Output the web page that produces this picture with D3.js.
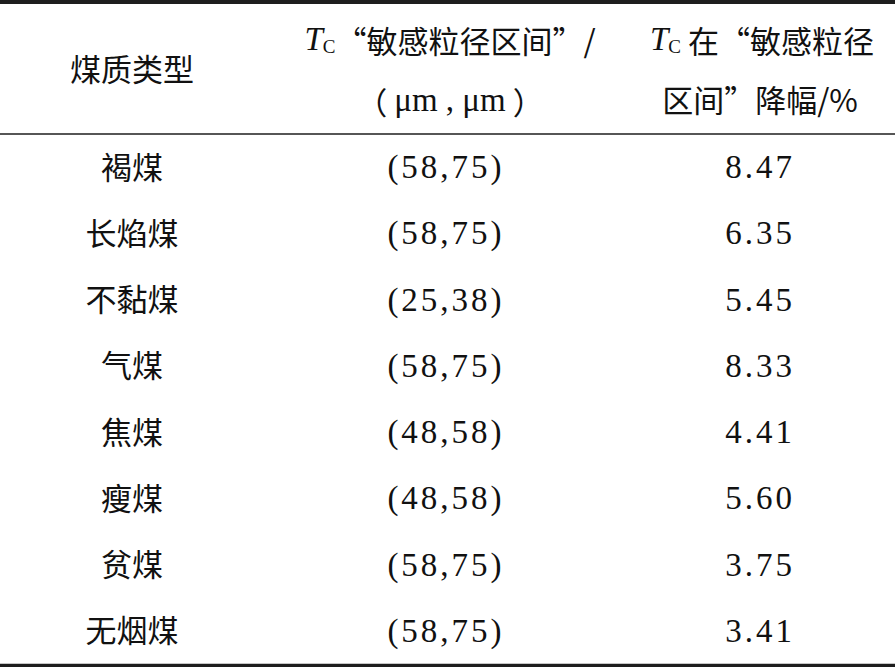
<!DOCTYPE html>
<html>
<head>
<meta charset="utf-8">
<script src="https://cdn.jsdelivr.net/npm/d3@7"></script>
<style>
  body { margin: 0; background: #fff; }
  .cn { font-family: "Noto Sans CJK SC", sans-serif; }
  .num { font-family: "Liberation Serif", "Times New Roman", serif; letter-spacing: 3px; }
</style>
</head>
<body>
<div id="chart-area"></div>
<script>
// table data
var coalTypes = ["褐煤", "长焰煤", "不黏煤", "气煤", "焦煤", "瘦煤", "贫煤", "无烟煤"];
var rangeLow = [58, 58, 25, 58, 48, 48, 58, 58];
var rangeHigh = [75, 75, 38, 75, 58, 58, 75, 75];
var drops = ["8.47", "6.35", "5.45", "8.33", "4.41", "5.60", "3.75", "3.41"];
var columns = ["type", "range", "drop"];

var width = 895, height = 667;
var headTop = 4, headBottom = 134, tableBottom = 664;

var svg = d3.select("#chart-area").append("svg")
    .attr("width", width)
    .attr("height", height);

// column centres
var x = d3.scaleOrdinal()
    .domain(columns)
    .range([132, 446, 760]);

// row bands
var y = d3.scaleBand()
    .domain(d3.range(coalTypes.length))
    .range([headBottom, tableBottom]);

// rules
svg.append("line").attr("x1", 0).attr("x2", width).attr("y1", 2).attr("y2", 2)
    .attr("stroke", "#1e1e1e").attr("stroke-width", 4);
svg.append("line").attr("x1", 0).attr("x2", width).attr("y1", headBottom).attr("y2", headBottom)
    .attr("stroke", "#1e1e1e").attr("stroke-width", 1.5);
svg.append("line").attr("x1", 0).attr("x2", width).attr("y1", 665.5).attr("y2", 665.5)
    .attr("stroke", "#1e1e1e").attr("stroke-width", 3.5);

var fs = 31;

// header
var headMid = (headTop + headBottom) / 2;
svg.append("text").attr("class", "cn")
    .attr("x", x("type")).attr("y", headMid - 2)
    .attr("text-anchor", "middle").attr("dominant-baseline", "central")
    .attr("font-size", fs).attr("fill", "#111")
    .text("煤质类型");

function tcLabel(t, cx, cy, rest) {
    var tx = t.append("text")
        .attr("x", cx).attr("y", cy)
        .attr("text-anchor", "middle").attr("dominant-baseline", "central")
        .attr("font-size", fs).attr("fill", "#111");
    tx.append("tspan").attr("font-family", "Liberation Serif, serif")
        .attr("font-style", "italic").attr("font-size", 33).text("T");
    tx.append("tspan").attr("font-family", "Liberation Serif, serif")
        .attr("font-size", 19).attr("dy", 7).text("C");
    tx.append("tspan").attr("class", "cn").attr("dy", -7).text(rest);
}
tcLabel(svg, x("range") + 4, 39, "“敏感粒径区间”/");
tcLabel(svg, x("drop") + 2, 39, " 在“敏感粒径");

svg.append("text").attr("x", x("range") + 4).attr("y", 100)
    .attr("text-anchor", "middle").attr("dominant-baseline", "central")
    .attr("font-size", fs).attr("fill", "#111")
    .call(function (t) {
        t.append("tspan").attr("class", "cn").text("（ ");
        t.append("tspan").attr("font-family", "Liberation Serif, serif").attr("font-size", 33).text("μm , μm");
        t.append("tspan").attr("class", "cn").text(" ）");
    });

svg.append("text").attr("class", "cn").attr("x", x("drop")).attr("y", 98)
    .attr("text-anchor", "middle").attr("dominant-baseline", "central")
    .attr("font-size", fs).attr("fill", "#111")
    .text("区间”降幅/%");

// body rows
var rows = svg.selectAll("g.row").data(coalTypes)
    .enter().append("g")
    .attr("class", "row")
    .attr("transform", function (d, i) {
        return "translate(0," + (y(i) + y.bandwidth() / 2) + ")";
    });

rows.append("text").attr("class", "cn")
    .attr("x", x("type")).attr("y", -2)
    .attr("text-anchor", "middle").attr("dominant-baseline", "central")
    .attr("font-size", fs).attr("fill", "#111")
    .text(function (d) { return d; });

rows.append("text").attr("class", "num")
    .attr("x", x("range"))
    .attr("text-anchor", "middle").attr("dominant-baseline", "central")
    .attr("font-family", "Liberation Serif, serif")
    .attr("font-size", 33).attr("fill", "#111")
    .text(function (d, i) { return "(" + rangeLow[i] + "," + rangeHigh[i] + ")"; });

rows.append("text").attr("class", "num")
    .attr("x", x("drop"))
    .attr("text-anchor", "middle").attr("dominant-baseline", "central")
    .attr("font-family", "Liberation Serif, serif")
    .attr("font-size", 33).attr("fill", "#111")
    .text(function (d, i) { return drops[i]; });
</script>
</body>
</html>
